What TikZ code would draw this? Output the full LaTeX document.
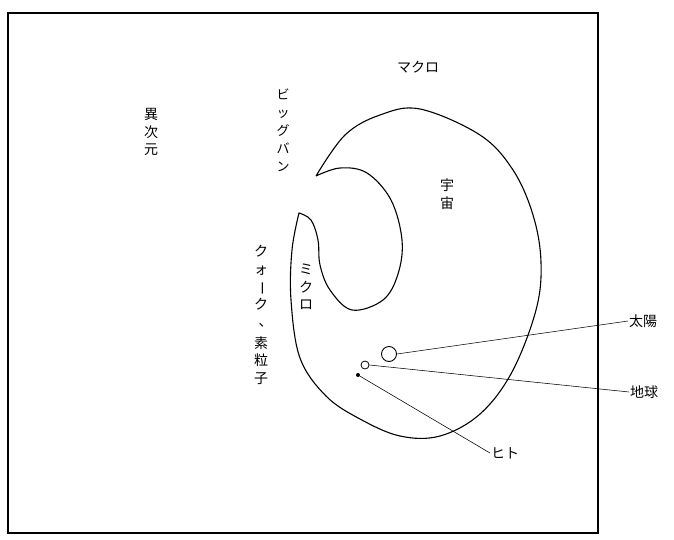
\documentclass[tikz,border=0pt]{standalone}
\usepackage{fontspec}
\usepackage{graphicx}
\newfontfamily\jp{Noto Sans CJK JP}
\newcommand{\vbar}{\rotatebox[origin=c]{-90}{ー}}
\begin{document}
\begin{tikzpicture}[x=1pt,y=-1pt,
  frameline/.style={line width=1.1pt},
  uniline/.style={line width=1.1pt},
  conn/.style={line width=0.55pt},
  lbl/.style={font=\jp\fontsize{14}{16}\selectfont, inner sep=1pt},
  vlbl/.style={font=\jp\fontsize{14}{17.5}\selectfont, align=center, inner sep=0pt},
  vlbls/.style={font=\jp\fontsize{13}{18}\selectfont, align=center, inner sep=0pt}]
\useasboundingbox (0,0) rectangle (674,540);
\draw[frameline] (8,13) rectangle (598,533);
% universe shape
\draw[uniline] plot[smooth, tension=0.6] coordinates {(316,176) (345,135) (380,115) (420,109) (480,135) (513,170) (533,215) (541,262) (536,310) (512,372) (480,414) (440,436) (400,436) (360,419) (326,396) (300,358) (291,300) (292,250) (299,213)}
  -- plot[smooth, tension=0.6] coordinates {(299,213) (311,220) (318,240) (320,265) (330,290) (352,310) (383,300) (398,274) (402,240) (391,200) (367,173) (340,168) (316,176)};
% bodies
\node[draw, circle, line width=0.9pt, minimum size=15pt, inner sep=0pt] (sun) at (389,354) {};
\node[draw, circle, line width=0.8pt, minimum size=8pt, inner sep=0pt] (earth) at (365,365) {};
\node[fill, circle, minimum size=4pt, inner sep=0pt] (hito) at (358,375) {};
% labels
\node[lbl, anchor=west] (taiyo) at (628,321) {太陽};
\node[lbl, anchor=west] (chikyu) at (629,392) {地球};
\node[lbl, anchor=west] (hitol) at (490,453) {ヒト};
\draw[conn] (sun.east) -- (taiyo.west);
\draw[conn] (earth.east) -- (chikyu.west);
\draw[conn] (hito) -- (hitol.west);
\node[lbl] (macro) at (418,67) {マクロ};
\node[vlbl] (uchu) at (447,194) {宇\\宙};
\node[vlbl] (ijigen) at (151,132) {異\\次\\元};
\node[vlbls] (bigbang) at (283,130) {ビ\\ッ\\グ\\バ\\ン};
\node[vlbl] (micro) at (306,287) {ミ\\ク\\ロ};
\node[vlbl] (quark) at (261,315) {ク\\ォ\\\vbar\\ク\\\kern9pt、\\[4pt]素\\粒\\子};
\end{tikzpicture}
\end{document}
